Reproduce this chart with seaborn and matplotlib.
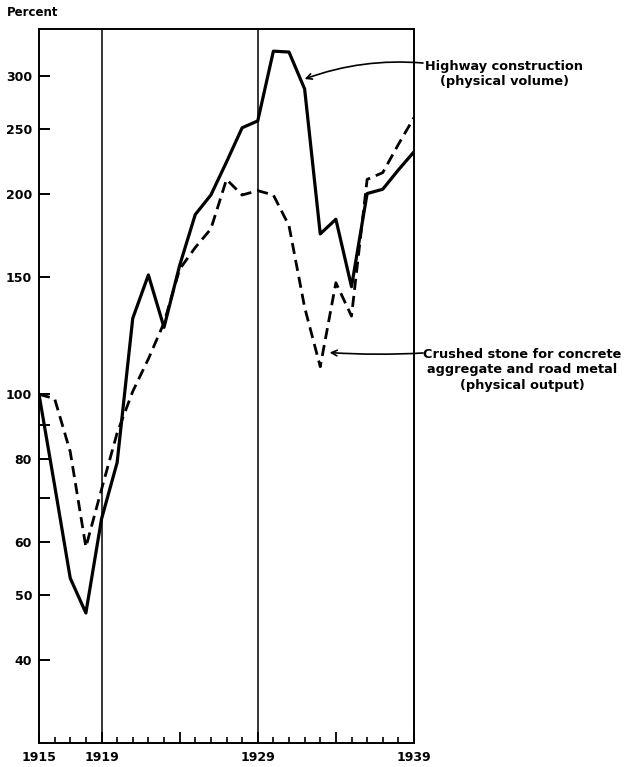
import matplotlib
matplotlib.use("Agg")
import matplotlib.pyplot as plt
import seaborn as sns
import pandas as pd
import numpy as np

# ---- data ----
years = list(range(1915, 1940))
highway = [100, 73, 53, 47, 65, 79, 130, 151, 126, 156, 186, 199, 223, 251,
           257, 327, 326, 287, 174, 183, 145, 200, 203, 217, 231]
stone = [100, 98.5, 82, 59, 72, 87.5, 101, 113, 128, 154, 166, 177, 210, 199,
         202, 199, 179, 135, 110, 147, 131, 210, 215, 237, 260]
ytick_vals = [40, 50, 60, 70, 80, 90, 100, 150, 200, 250, 300]
ytick_labels = ["40", "50", "60", "", "80", "", "100", "150", "200", "250", "300"]
xmajor = [1915, 1919, 1924, 1929, 1934, 1939]
xmajor_labels = ["1915", "1919", "", "1929", "", "1939"]
ref_years = [1919, 1929]
highway_label = "Highway construction\n(physical volume)"
stone_label = "Crushed stone for concrete\naggregate and road metal\n(physical output)"

sns.set_style("white")
plt.rcParams["font.family"] = ["DejaVu Sans"]
plt.rcParams["font.weight"] = "bold"
for k in ["text.color", "xtick.color", "ytick.color", "axes.labelcolor",
          "axes.edgecolor"]:
    plt.rcParams[k] = "black"

df = pd.DataFrame({"year": years, "highway": highway, "stone": stone})

fig = plt.figure(figsize=(6.26, 7.67), dpi=100)
ax = fig.add_axes([39 / 626, 1 - 743 / 767, 375 / 626, 714 / 767])

sns.lineplot(data=df, x="year", y="highway", ax=ax, color="black", lw=2.3)
sns.lineplot(data=df, x="year", y="stone", ax=ax, color="black", lw=2.0,
             dashes=False)
ax.lines[-1].set_dashes([4.0, 2.2])

for yr in ref_years:
    ax.axvline(yr, color="black", lw=1.1)

ax.set_yscale("log")
ax.set_ylim(30, 353)
ax.set_xlim(years[0], years[-1])

ax.set_yticks(ytick_vals)
ax.set_yticklabels(ytick_labels)
ax.yaxis.set_minor_locator(matplotlib.ticker.NullLocator())
ax.tick_params(axis="y", which="major", direction="in", length=8, width=1.4,
               left=True, right=False, labelsize=9, pad=5, colors="black")

ax.set_xticks(xmajor)
ax.set_xticklabels(xmajor_labels)
ax.set_xticks(years, minor=True)
ax.tick_params(axis="x", which="major", direction="in", length=8, width=1.3,
               bottom=True, top=False, labelsize=9, pad=6, colors="black")
ax.tick_params(axis="x", which="minor", direction="in", length=4, width=1.2,
               bottom=True, top=False, colors="black")
for lab in ax.get_xticklabels() + ax.get_yticklabels():
    lab.set_fontweight("bold")

ax.set_xlabel("")
ax.set_ylabel("")
for s in ax.spines.values():
    s.set_visible(True)
    s.set_color("black")
    s.set_linewidth(1.4)

fig.text(7 / 626, 1 - 13 / 767, "Percent", fontsize=8.5, fontweight="bold",
         ha="left", va="center", color="black")

fig.text(504 / 626, 1 - 74 / 767, highway_label, fontsize=9.3,
         fontweight="bold", ha="center", va="center", multialignment="center",
         linespacing=1.2, color="black")
fig.text(522 / 626, 1 - 370 / 767, stone_label, fontsize=9.3,
         fontweight="bold", ha="center", va="center", multialignment="center",
         linespacing=1.2, color="black")

ax.annotate("", xy=(1932.0, 297), xycoords="data",
            xytext=(423 / 626, 1 - 63 / 767), textcoords="figure fraction",
            arrowprops=dict(arrowstyle="->", lw=1.2, color="black",
                            shrinkA=0, shrinkB=0,
                            connectionstyle="arc3,rad=0.11"),
            annotation_clip=False)
ax.annotate("", xy=(1933.6, 115.5), xycoords="data",
            xytext=(423 / 626, 1 - 353 / 767), textcoords="figure fraction",
            arrowprops=dict(arrowstyle="->", lw=1.2, color="black",
                            shrinkA=0, shrinkB=0,
                            connectionstyle="arc3,rad=-0.03"),
            annotation_clip=False)

fig.savefig("out.png", dpi=100)
